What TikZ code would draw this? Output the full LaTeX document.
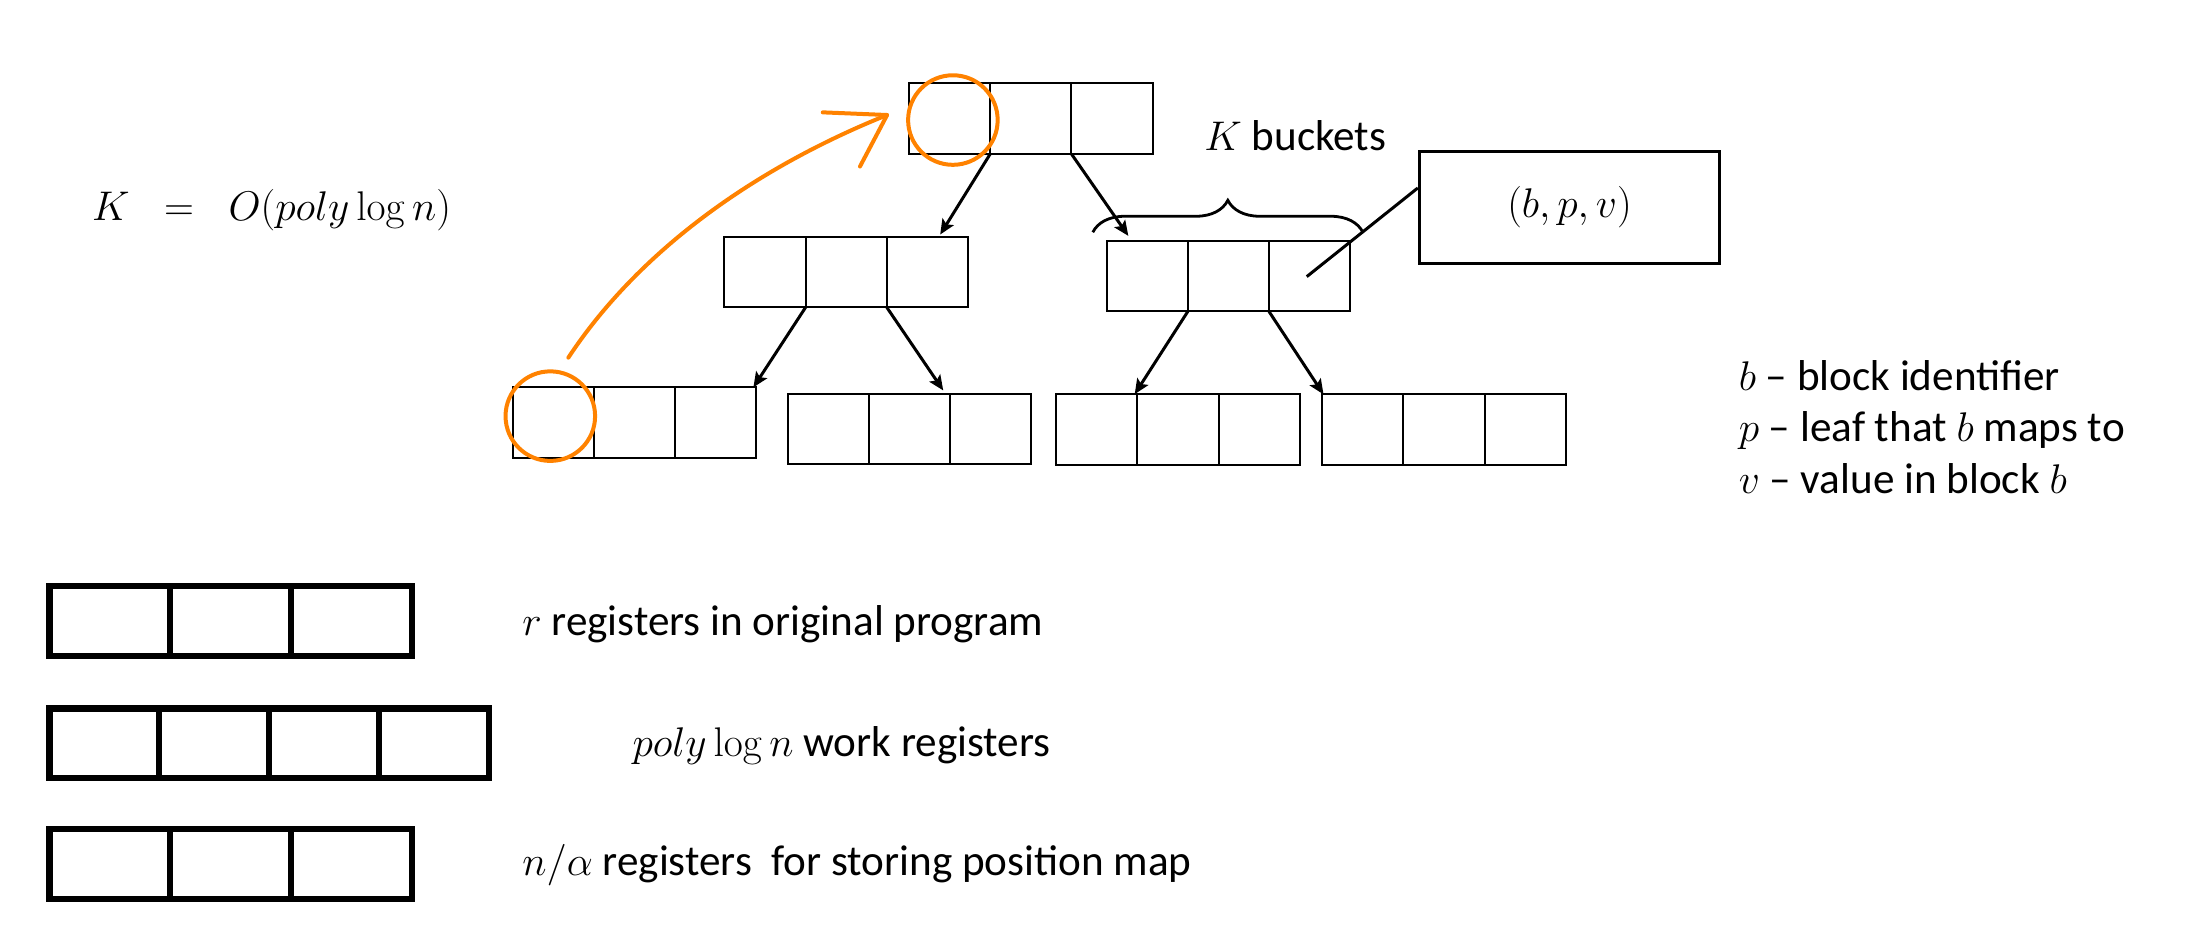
\documentclass[tikz,border=0pt]{standalone}
\usepackage[no-math]{fontspec}
\setmainfont{Carlito}
\usetikzlibrary{calc,arrows.meta,decorations.pathreplacing}
\definecolor{hiorange}{RGB}{255,130,0}
\begin{document}
\begin{tikzpicture}[x=0.7pt,y=-0.7pt,
  bucket/.style={draw, line width=1pt, minimum width=121.8pt, minimum height=35.35pt, inner sep=0pt, outer sep=0pt},
  reg/.style={draw, line width=3.2pt, minimum height=34.9pt, inner sep=0pt, outer sep=0pt},
  link/.style={line width=1.5pt, -{Stealth[length=7.5pt,width=6.5pt,inset=1.5pt]}},
  lbl/.style={anchor=base west, inner sep=0pt, font=\fontsize{21.6}{26}\selectfont},
  hl/.style={draw=hiorange, line width=2pt, line cap=round, line join=round},
]
\useasboundingbox (0,0) rectangle (1568,678);

% tree of buckets
\node[bucket] (top) at (736.7,84.75) {};
\node[bucket] (ml)  at (604.75,194.4) {};
\node[bucket] (mr)  at (877.9,197.35) {};
\node[bucket] (bl1) at (453.35,302.05) {};
\node[bucket] (bl2) at (650.1,306.7) {};
\node[bucket] (br1) at (841.9,306.95) {};
\node[bucket] (br2) at (1032,307.1) {};
\foreach \n in {top,ml,mr,bl1,bl2,br1,br2}{
  \foreach \f in {0.3333,0.6667}
    \draw[line width=1pt] ($(\n.north west)!\f!(\n.north east)$) -- ($(\n.south west)!\f!(\n.south east)$);
}

\draw[link] ($(top.south west)!0.3333!(top.south east)$) -- ($(ml.north west)!0.886!(ml.north east)+(0,-1.5)$);
\draw[link] ($(top.south west)!0.6667!(top.south east)$) -- ($(mr.north west)!0.089!(mr.north east)+(0,-3.5)$);
\draw[link] ($(ml.south west)!0.3333!(ml.south east)$) -- ($(bl1.north west)!0.989!(bl1.north east)$);
\draw[link] ($(ml.south west)!0.6667!(ml.south east)$) -- ($(bl2.north west)!0.638!(bl2.north east)+(0,-2.4)$);
\draw[link] ($(mr.south west)!0.3333!(mr.south east)$) -- ($(br1.north west)!0.322!(br1.north east)$);
\draw[link] ($(mr.south west)!0.6667!(mr.south east)$) -- ($(br2.north west)!0.005!(br2.north east)$);

% brace and labels
\coordinate (braceL) at (781,166);
\coordinate (braceR) at (974,166);
\draw[line width=1.4pt, decorate, decoration={brace, amplitude=16pt}] (braceL) -- (braceR);
\node[lbl] (kb) at (860.5,107.7) {$K$ buckets};

\node[draw, line width=1.6pt, minimum width=150.2pt, minimum height=55.9pt, inner sep=0pt,
      font=\fontsize{22}{26}\selectfont] (bpv) at (1121.7,148.3) {$(b,p,v)$};
\coordinate (cellpt) at (933.9,197.7);
\draw[line width=1.5pt] ($(bpv.north west)!0.33!(bpv.south west)$) -- (cellpt);

\node[lbl] (keq) at (65.5,157.7) {$K\;\;=\;\;O(poly\log n)$};

\node[lbl] (db) at (1242.4,279.2) {$b$ – block identifier};
\node[lbl] (dp) at (1242.4,315.6) {$p$ – leaf that $b$ maps to};
\node[lbl] (dv) at (1242.4,352.6) {$v$ – value in block $b$};

% orange highlight
\node[hl, circle, minimum size=44.8pt, inner sep=0pt] (c1) at (681,85.8) {};
\node[hl, circle, minimum size=44.8pt, inner sep=0pt] (c2) at (393.3,297.4) {};
\coordinate (cstart) at (406.2,255.6);
\coordinate (tip) at (634,82.2);
\coordinate (armA) at (588,80.3);
\coordinate (armB) at (614.6,119);
\draw[hl] (cstart) .. controls (452,186) and (530,124) .. (tip);
\draw[hl] (armA) -- (tip) -- (armB);

% register rows
\node[reg, minimum width=181.4pt] (r1) at (164.9,443.9) {};
\node[reg, minimum width=219.8pt] (r2) at (192.3,531.25) {};
\node[reg, minimum width=181.4pt] (r3) at (164.9,617.55) {};
\foreach \f in {0.3333,0.6667}{
  \draw[line width=3.2pt] ($(r1.north west)!\f!(r1.north east)$) -- ($(r1.south west)!\f!(r1.south east)$);
  \draw[line width=3.2pt] ($(r3.north west)!\f!(r3.north east)$) -- ($(r3.south west)!\f!(r3.south east)$);
}
\foreach \f in {0.25,0.5,0.75}
  \draw[line width=3.2pt] ($(r2.north west)!\f!(r2.north east)$) -- ($(r2.south west)!\f!(r2.south east)$);

\node[lbl] (t1) at (373,453.9) {$r$ registers in original program};
\node[lbl] (t2) at (451.8,540.8) {$poly\log n$ work registers};
\node[lbl] (t3) at (373,625.4) {$n/\alpha$ registers\ \ for storing position map};
\end{tikzpicture}
\end{document}
